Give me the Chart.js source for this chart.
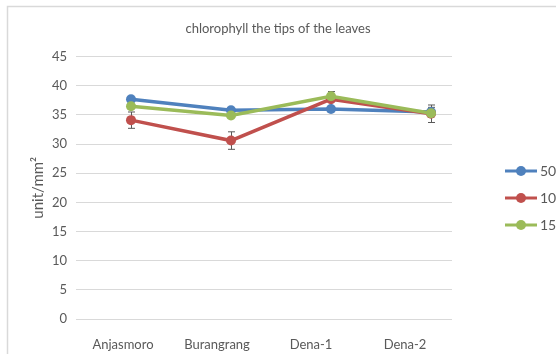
<!DOCTYPE html>
<html>
<head>
<meta charset="utf-8">
<script src="https://cdn.jsdelivr.net/npm/chart.js@4.4.1/dist/chart.umd.min.js"></script>
<style>
    html, body { margin: 0; padding: 0; background: #fff; overflow: hidden; }
    #wrap { position: relative; width: 556px; height: 354px; }
</style>
</head>
<body>
<div id="wrap"><canvas id="chart" width="556" height="354"></canvas></div>
<script>
    // Dados do gráfico
    const categories = ['Anjasmoro', 'Burangrang', 'Dena-1', 'Dena-2'];
    const seriesNames = ['50', '10', '15'];
    const values50 = [37.7, 35.8, 36.0, 35.5];
    const values10 = [34.1, 30.6, 37.7, 35.2];
    const values15 = [36.5, 34.9, 38.2, 35.3];
    const errors10 = [1.4, 1.5, 1.3, 1.5];
    const errors50 = [0, 0, 0, 0.8];
    const yTicks = [0, 5, 10, 15, 20, 25, 30, 35, 40, 45];

    const colors = ['#4F81BD', '#C0504D', '#9BBB59'];
    const textGray = '#595959';
    const gridGray = '#d9d9d9';
    const FONT = 'Lato, "Open Sans", sans-serif';

    function toPoints(vals) {
        return vals.map((v, i) => ({ x: i, y: v }));
    }

    // Moldura do gráfico (estilo Excel)
    const framePlugin = {
        id: 'frame',
        beforeDraw(chart) {
            const ctx = chart.ctx;
            ctx.save();
            ctx.fillStyle = '#fff';
            ctx.fillRect(0, 0, chart.width, chart.height);
            ctx.strokeStyle = gridGray;
            ctx.lineWidth = 1.5;
            ctx.strokeRect(7.5, 6.5, chart.width + 20, chart.height + 20);
            ctx.restore();
        }
    };

    // Barras de erro
    const errorBarPlugin = {
        id: 'errorBars',
        beforeDatasetsDraw(chart) {
            const ctx = chart.ctx;
            const xs = chart.scales.xData;
            const ys = chart.scales.y;
            const sets = [[values50, errors50], [values10, errors10]];
            ctx.save();
            ctx.strokeStyle = textGray;
            ctx.lineWidth = 1;
            sets.forEach(([vals, errs]) => {
                vals.forEach((v, i) => {
                    if (!errs[i]) return;
                    const x = Math.round(xs.getPixelForValue(i)) + 0.5;
                    const top = ys.getPixelForValue(v + errs[i]);
                    const bot = ys.getPixelForValue(v - errs[i]);
                    ctx.beginPath();
                    ctx.moveTo(x, top); ctx.lineTo(x, bot);
                    ctx.moveTo(x - 3.5, top); ctx.lineTo(x + 3.5, top);
                    ctx.moveTo(x - 3.5, bot); ctx.lineTo(x + 3.5, bot);
                    ctx.stroke();
                });
            });
            ctx.restore();
        }
    };

    // Legenda à direita (linha + marcador)
    const legendPlugin = {
        id: 'sideLegend',
        afterDraw(chart) {
            const ctx = chart.ctx;
            ctx.save();
            ctx.font = '14px ' + FONT;
            ctx.textBaseline = 'middle';
            seriesNames.forEach((name, i) => {
                const y = 171 + i * 27;
                ctx.strokeStyle = colors[i];
                ctx.lineWidth = 3;
                ctx.beginPath();
                ctx.moveTo(505, y); ctx.lineTo(537, y);
                ctx.stroke();
                ctx.fillStyle = colors[i];
                ctx.beginPath();
                ctx.arc(521, y, 5, 0, Math.PI * 2);
                ctx.fill();
                ctx.fillStyle = textGray;
                ctx.fillText(name, 540, y);
            });
            ctx.restore();
        }
    };

    function makeDataset(i, vals, order) {
        return {
            label: seriesNames[i],
            data: toPoints(vals),
            xAxisID: 'xData',
            borderColor: colors[i],
            backgroundColor: colors[i],
            borderWidth: 3.5,
            pointRadius: 5,
            pointHoverRadius: 5,
            pointBorderWidth: 0,
            tension: 0,
            order: order
        };
    }

    new Chart(document.getElementById('chart'), {
        type: 'line',
        data: {
            labels: categories,
            datasets: [
                makeDataset(0, values50, 3),
                makeDataset(1, values10, 2),
                makeDataset(2, values15, 1)
            ]
        },
        options: {
            responsive: false,
            animation: false,
            events: [],
            layout: { padding: 0 },
            plugins: {
                legend: { display: false },
                tooltip: { enabled: false },
                title: {
                    display: true,
                    text: 'chlorophyll the tips of the leaves',
                    color: textGray,
                    font: { family: FONT, size: 13, weight: 'normal' },
                    padding: { top: 21, bottom: 20 }
                }
            },
            scales: {
                x: {
                    type: 'category',
                    offset: true,
                    grid: { display: false },
                    border: { display: false },
                    ticks: { color: textGray, font: { family: FONT, size: 13 }, padding: 10 },
                    afterFit(scale) { scale.height = 35; }
                },
                xData: {
                    type: 'linear',
                    display: false,
                    min: -0.55,
                    max: 3.21
                },
                y: {
                    min: 0,
                    max: 45,
                    afterBuildTicks(scale) {
                        scale.ticks = yTicks.map(v => ({ value: v }));
                    },
                    grid: { color: gridGray, lineWidth: 1, drawTicks: false },
                    border: { display: false },
                    ticks: { color: textGray, font: { family: FONT, size: 13 }, padding: 9 },
                    title: {
                        display: true,
                        text: 'unit/mm²',
                        color: textGray,
                        font: { family: FONT, size: 15 },
                        padding: { top: 29, bottom: 0 }
                    },
                    afterFit(scale) { scale.width = 76; }
                },
                yRight: {
                    position: 'right',
                    grid: { display: false },
                    border: { display: false },
                    ticks: { display: false },
                    afterFit(scale) { scale.width = 104; }
                }
            }
        },
        plugins: [framePlugin, errorBarPlugin, legendPlugin]
    });
</script>
</body>
</html>
